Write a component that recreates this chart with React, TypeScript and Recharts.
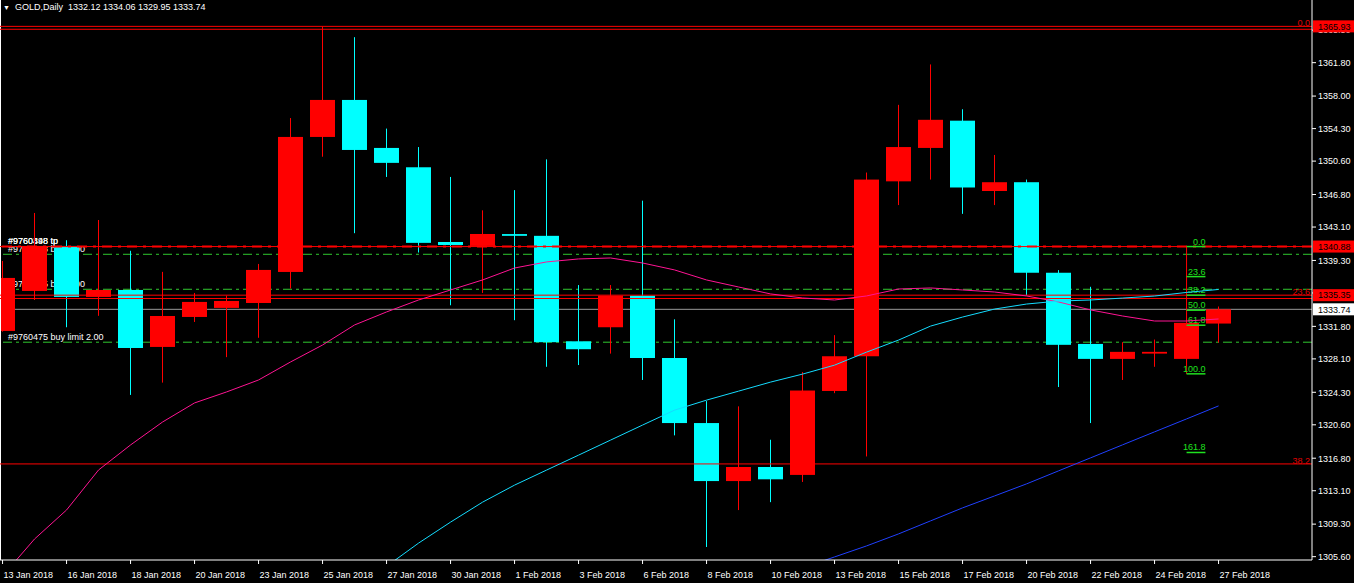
import React from 'react';
import { ComposedChart, Bar, Line, XAxis, YAxis, ReferenceLine } from 'recharts';

const FONT = "'Liberation Sans', Arial, sans-serif";

const dates = [
  '13 Jan 2018', '15 Jan 2018', '16 Jan 2018', '17 Jan 2018', '18 Jan 2018', '19 Jan 2018', '20 Jan 2018',
  '22 Jan 2018', '23 Jan 2018', '24 Jan 2018', '25 Jan 2018', '26 Jan 2018', '27 Jan 2018',
  '29 Jan 2018', '30 Jan 2018', '31 Jan 2018', '1 Feb 2018', '2 Feb 2018', '3 Feb 2018',
  '5 Feb 2018', '6 Feb 2018', '7 Feb 2018', '8 Feb 2018', '9 Feb 2018', '10 Feb 2018',
  '12 Feb 2018', '13 Feb 2018', '14 Feb 2018', '15 Feb 2018', '16 Feb 2018', '17 Feb 2018',
  '19 Feb 2018', '20 Feb 2018', '21 Feb 2018', '22 Feb 2018', '23 Feb 2018', '24 Feb 2018',
  '26 Feb 2018', '27 Feb 2018',
];

const open = [1331.28, 1335.83, 1340.95, 1335.15, 1335.94, 1329.46, 1332.87, 1333.90, 1334.46, 1337.99, 1353.35, 1357.56, 1352.10, 1349.90, 1341.40, 1340.95, 1342.30, 1342.10, 1330.10, 1331.70, 1335.30, 1328.20, 1320.80, 1314.20, 1315.80, 1314.90, 1324.45, 1328.40, 1348.30, 1352.10, 1355.20, 1347.20, 1348.20, 1337.90, 1329.80, 1328.10, 1328.70, 1328.10, 1332.12];
const high = [1339.24, 1344.70, 1341.60, 1343.90, 1340.40, 1338.00, 1335.60, 1335.30, 1338.90, 1355.50, 1365.93, 1364.70, 1354.30, 1352.20, 1348.80, 1345.00, 1347.30, 1350.80, 1336.50, 1336.50, 1346.10, 1332.60, 1323.30, 1322.70, 1318.90, 1326.60, 1330.80, 1349.30, 1357.00, 1361.60, 1356.50, 1351.30, 1348.50, 1338.20, 1336.30, 1330.00, 1330.30, 1333.30, 1334.06];
const low = [1331.20, 1334.80, 1331.70, 1333.00, 1324.00, 1325.40, 1332.30, 1328.30, 1330.50, 1336.10, 1351.10, 1342.40, 1348.80, 1340.20, 1334.20, 1335.60, 1332.50, 1327.20, 1327.40, 1328.70, 1325.70, 1319.40, 1306.70, 1310.90, 1311.80, 1314.10, 1324.20, 1317.00, 1345.60, 1348.50, 1344.60, 1345.60, 1335.30, 1324.90, 1320.80, 1325.70, 1327.20, 1327.00, 1329.95];
const close = [1337.31, 1340.95, 1335.15, 1335.94, 1329.34, 1332.98, 1334.58, 1334.69, 1338.22, 1353.35, 1357.56, 1351.87, 1350.40, 1341.30, 1341.06, 1342.31, 1342.10, 1330.00, 1329.20, 1335.30, 1328.20, 1320.80, 1314.20, 1315.80, 1314.40, 1324.50, 1328.40, 1348.50, 1352.20, 1355.30, 1347.60, 1348.20, 1337.90, 1329.70, 1328.10, 1328.90, 1328.90, 1332.20, 1333.74];

const maFast = [1303.40, 1307.61, 1310.91, 1315.46, 1318.31, 1320.92, 1323.09, 1324.34, 1325.70, 1327.75, 1329.68, 1331.96, 1333.44, 1334.80, 1335.94, 1337.08, 1338.44, 1339.13, 1339.47, 1339.58, 1339.01, 1338.22, 1337.08, 1336.28, 1335.49, 1335.03, 1334.80, 1335.26, 1336.05, 1336.17, 1335.94, 1335.71, 1335.26, 1334.58, 1333.67, 1332.98, 1332.41, 1332.41, 1332.64];
const maMid = [null, null, null, null, null, null, null, null, null, null, null, null, 1304.50, 1307.14, 1309.53, 1311.80, 1313.74, 1315.45, 1317.15, 1318.86, 1320.57, 1322.27, 1323.41, 1324.43, 1325.46, 1326.37, 1327.39, 1328.87, 1330.24, 1331.83, 1332.86, 1333.77, 1334.34, 1334.68, 1334.80, 1335.02, 1335.25, 1335.66, 1336.00];
const maSlow = [null, null, null, null, null, null, null, null, null, null, null, null, null, null, null, null, null, null, null, null, null, null, null, null, null, 1304.31, 1305.57, 1306.82, 1308.19, 1309.67, 1311.15, 1312.51, 1313.88, 1315.36, 1316.84, 1318.32, 1319.80, 1321.27, 1322.75];

const priceTicks = [1305.6, 1309.3, 1313.1, 1316.8, 1320.6, 1324.3, 1328.1, 1331.8, 1335.6, 1339.3, 1343.1, 1346.8, 1350.6, 1354.3, 1358.0, 1361.8, 1365.5];
const dateTickIdx = [0, 2, 4, 6, 8, 10, 12, 14, 16, 18, 20, 22, 24, 26, 28, 30, 32, 34, 36, 38];

// horizontal objects
const redSolidLevels = [1365.93, 1365.60, 1340.88, 1335.35, 1334.97, 1316.15];
const priceBoxes = [1365.93, 1340.88, 1335.35];
const bidPrice = 1333.74;
const bigFibLevels = ['0.0', '23.6', '38.2'];
const bigFibPrices = [1365.93, 1335.35, 1316.15];
const orderPrices = [1340.00, 1336.02, 1330.00];
const orderTexts = ['#9760398 buy 2.00', '#9760415 buy 2.00', '#9760475 buy limit 2.00'];
const tpPrice = 1340.88;
const tpTexts = ['#9760398 tp', '#9760448 tp'];
const fibBarIdx = 37;
const fibTop = 1340.88;
const fibBottom = 1326.40;
const fibLevels = [0, 23.6, 38.2, 50, 61.8, 100, 161.8];

const data = dates.map((d, i) => ({
  i, date: d, o: open[i], h: high[i], l: low[i], c: close[i],
  range: [low[i], high[i]], f: maFast[i], m: maMid[i], s: maSlow[i],
}));

const Candle = (props: any) => {
  const { x, y, width, height, payload } = props;
  if (!payload) return null;
  const { o, h, l, c } = payload;
  const top = Math.min(y, y + height);
  const hgt = Math.abs(height);
  const ppu = hgt / (h - l);
  const yOf = (v: number) => top + (h - v) * ppu;
  const cx = Math.floor(x + width / 2) + 0.5;
  const up = c >= o;
  const color = up ? '#ff0000' : '#00ffff';
  const bTop = yOf(Math.max(o, c));
  const bBot = yOf(Math.min(o, c));
  return (
    <g>
      <line x1={cx} x2={cx} y1={top} y2={top + hgt} stroke={color} strokeWidth={1} />
      <rect x={Math.round(x)} y={bTop} width={Math.round(width)} height={Math.max(1.5, bBot - bTop)} fill={color} />
    </g>
  );
};

const XTick = (props: any) => {
  const { x, payload } = props;
  return (
    <text x={x + 1} y={578} fill="#ffffff" fontSize={9} fontFamily={FONT}>{dates[payload.value]}</text>
  );
};

const YTick = (props: any) => {
  const { x, y, payload } = props;
  return (
    <text x={x} y={y + 3.3} fill="#ffffff" fontSize={9} fontFamily={FONT}>{payload.value.toFixed(2)}</text>
  );
};

const LeftText = (props: any) => {
  const { viewBox, text } = props;
  if (!viewBox) return null;
  return <text x={viewBox.x + 8} y={viewBox.y - 2.5} fill="#ffffff" fontSize={9} fontFamily={FONT}>{text}</text>;
};

const PriceBox = (props: any) => {
  const { viewBox, text, bg } = props;
  if (!viewBox) return null;
  const x0 = viewBox.x + viewBox.width + 1;
  return (
    <g>
      <rect x={x0} y={viewBox.y - 6} width={44} height={12} fill={bg} />
      <text x={x0 + 5} y={viewBox.y + 3.3} fill="#000000" fontSize={9} fontFamily={FONT}>{text}</text>
    </g>
  );
};

const RightText = (props: any) => {
  const { viewBox, text, color, dx = -2, dy = -1 } = props;
  if (!viewBox) return null;
  return <text x={viewBox.x + viewBox.width + dx} y={viewBox.y + dy} textAnchor="end" fill={color} fontSize={9} fontFamily={FONT}>{text}</text>;
};

const last = data.length - 1;

export default function App() {
  return (
    <div style={{ position: 'fixed', left: 0, top: 0, width: 1354, height: 583, background: '#000000', overflow: 'hidden' }}>
      <ComposedChart width={1354} height={583} data={data} margin={{ top: 0, right: 0, bottom: 0, left: 0 }}>
        <XAxis
          dataKey="i" type="number" domain={[-0.08, 40.92]} ticks={dateTickIdx} allowDataOverflow
          height={23} stroke="#ffffff" tickSize={4} tick={<XTick />} interval={0}
        />
        <YAxis
          orientation="right" type="number" domain={[1305.22, 1368.93]} ticks={priceTicks} allowDataOverflow
          width={42} stroke="#ffffff" tickSize={4} tickMargin={2} tick={<YTick />} interval={0}
        />

        {/* order / tp texts (behind candles) */}
        {tpTexts.map((t) => (
          <ReferenceLine key={t} y={tpPrice} stroke="none" zIndex={250} label={<LeftText text={t} />} />
        ))}
        {orderPrices.map((p, k) => (
          <ReferenceLine key={'o' + k} y={p} stroke="#2fc82f" strokeDasharray="9 4 3 4" zIndex={250} label={<LeftText text={orderTexts[k]} />} />
        ))}
        <ReferenceLine y={bidPrice} stroke="#9a9a9a" zIndex={250} />
        <ReferenceLine x={-0.08} stroke="#ffffff" strokeWidth={2} />

        <Bar dataKey="range" barSize={25} isAnimationActive={false} shape={<Candle />} zIndex={300} />

        {redSolidLevels.map((p) => (
          <ReferenceLine key={'r' + p} y={p} stroke="#ff0000" />
        ))}
        <ReferenceLine y={tpPrice} stroke="#ff0000" strokeWidth={2} strokeDasharray="10 6 3 6" />
        {bigFibPrices.map((p, k) => (
          <ReferenceLine key={'bf' + k} y={p} stroke="none" label={<RightText text={bigFibLevels[k]} color="#e00000" dy={0} />} />
        ))}

        <ReferenceLine segment={[{ x: fibBarIdx, y: fibTop }, { x: fibBarIdx, y: fibBottom }]} stroke="#ff0000" />
        {fibLevels.map((lv) => {
          const p = fibTop - (lv / 100) * (fibTop - fibBottom);
          return (
            <ReferenceLine
              key={'gf' + lv}
              segment={[{ x: fibBarIdx, y: p }, { x: fibBarIdx + 0.59, y: p }]}
              stroke="#1fe01f" strokeWidth={1.5}
              label={<RightText text={lv.toFixed(1)} color="#1fe01f" dx={0} dy={-2} />}
            />
          );
        })}

        <Line dataKey="f" stroke="#ff1493" dot={false} isAnimationActive={false} strokeWidth={1} type="linear" />
        <Line dataKey="m" stroke="#14dcff" dot={false} isAnimationActive={false} strokeWidth={1} type="linear" />
        <Line dataKey="s" stroke="#2040ff" dot={false} isAnimationActive={false} strokeWidth={1} type="linear" />

        {priceBoxes.map((p) => (
          <ReferenceLine key={'pb' + p} y={p} stroke="none" zIndex={5000} label={<PriceBox text={p.toFixed(2)} bg="#ff0000" />} />
        ))}
        <ReferenceLine y={bidPrice} stroke="none" zIndex={5000} label={<PriceBox text={bidPrice.toFixed(2)} bg="#ffffff" />} />
      </ComposedChart>
      <div style={{ position: 'absolute', left: 3, top: 1, color: '#ffffff', fontFamily: FONT, fontSize: 9, whiteSpace: 'pre', lineHeight: '12px' }}>
        <span style={{ fontSize: 7, marginRight: 5 }}>▼</span>
        {`GOLD,Daily  ${open[last].toFixed(2)} ${high[last].toFixed(2)} ${low[last].toFixed(2)} ${close[last].toFixed(2)}`}
      </div>
    </div>
  );
}
